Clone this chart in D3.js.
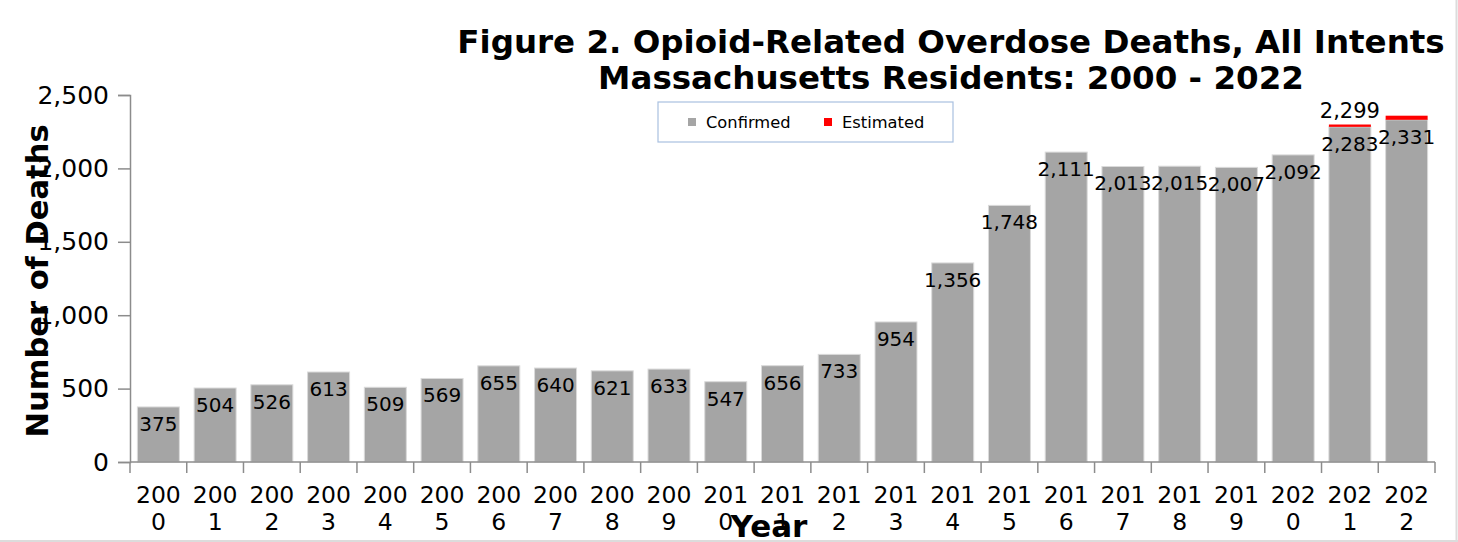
<!DOCTYPE html>
<html>
<head>
<meta charset="utf-8">
<script src="https://cdn.jsdelivr.net/npm/d3@7"></script>
<style>
  body { margin: 0; background: #fff; }
  text { font-family: "DejaVu Sans", sans-serif; }
</style>
</head>
<body>
<div class="chart"></div>
<script>
var svgWidth = 1458;
var svgHeight = 542;

// data
var years = ["2000","2001","2002","2003","2004","2005","2006","2007","2008","2009","2010",
  "2011","2012","2013","2014","2015","2016","2017","2018","2019","2020","2021","2022"];
var confirmed = [375,504,526,613,509,569,655,640,621,633,547,656,733,954,1356,1748,2111,2013,2015,2007,2092,2283,2331];
var estimated = [0,0,0,0,0,0,0,0,0,0,0,0,0,0,0,0,0,0,0,0,0,16,28];
var estimatedLabels = ["","","","","","","","","","","","","","","","","","","","","","2,299",""];
var yTicks = [0,500,1000,1500,2000,2500];

var margin = {top: 95, right: 23, bottom: 80, left: 130};
var width = svgWidth - margin.left - margin.right;
var height = svgHeight - margin.top - margin.bottom;

var svg = d3.select(".chart")
  .append("svg")
  .attr("width", svgWidth)
  .attr("height", svgHeight);

// light frame on right and bottom
svg.append("line").attr("x1", svgWidth - 1.5).attr("x2", svgWidth - 1.5)
  .attr("y1", 0).attr("y2", svgHeight).attr("stroke", "#dcdcdc").attr("stroke-width", 2);
svg.append("line").attr("x1", 0).attr("x2", svgWidth)
  .attr("y1", svgHeight - 1).attr("y2", svgHeight - 1).attr("stroke", "#dcdcdc").attr("stroke-width", 2);

var chartGroup = svg.append("g")
  .attr("transform", `translate(${margin.left}, ${margin.top})`);

var data = years.map(function(y, i) {
  return {year: y, confirmed: confirmed[i], estimated: estimated[i], estLabel: estimatedLabels[i]};
});

var xBandScale = d3.scaleBand()
  .domain(years)
  .range([0, width])
  .paddingInner(0.26)
  .paddingOuter(0.13);

var yLinearScale = d3.scaleLinear()
  .domain([0, 2500])
  .range([height, 0]);

// y axis
var leftAxis = d3.axisLeft(yLinearScale)
  .tickValues(yTicks)
  .tickSize(12)
  .tickPadding(9)
  .tickFormat(d3.format(","));

var yAxis = chartGroup.append("g").call(leftAxis);
yAxis.select(".domain").attr("stroke", "#8c8c8c").attr("stroke-width", 1.5);
yAxis.selectAll(".tick line").attr("stroke", "#8c8c8c").attr("stroke-width", 1.5);
yAxis.selectAll(".tick text")
  .attr("font-size", "25px")
  .attr("fill", "#000")
  .attr("font-family", "DejaVu Sans");

// bars
chartGroup.selectAll(".confirmed")
  .data(data)
  .enter()
  .append("rect")
  .attr("class", "confirmed")
  .attr("x", d => xBandScale(d.year))
  .attr("width", xBandScale.bandwidth())
  .attr("y", d => yLinearScale(d.confirmed))
  .attr("height", d => height - yLinearScale(d.confirmed))
  .attr("fill", "#a5a5a5")
  .attr("stroke", "#dadada")
  .attr("stroke-width", 1);

chartGroup.selectAll(".estimated")
  .data(data.filter(d => d.estimated > 0))
  .enter()
  .append("rect")
  .attr("class", "estimated")
  .attr("x", d => xBandScale(d.year))
  .attr("width", xBandScale.bandwidth())
  .attr("y", d => yLinearScale(d.confirmed + d.estimated))
  .attr("height", d => yLinearScale(d.confirmed) - yLinearScale(d.confirmed + d.estimated))
  .attr("fill", "#ff0000");

// x axis with ticks at category boundaries
var xAxis = chartGroup.append("g")
  .attr("transform", `translate(0, ${height})`);
xAxis.append("line")
  .attr("x1", 0).attr("x2", width)
  .attr("stroke", "#8c8c8c").attr("stroke-width", 1.5);
xAxis.selectAll(".bound")
  .data(d3.range(years.length + 1))
  .enter()
  .append("line")
  .attr("x1", i => i * width / years.length)
  .attr("x2", i => i * width / years.length)
  .attr("y1", 0).attr("y2", 11)
  .attr("stroke", "#8c8c8c").attr("stroke-width", 1.5);

var xLabels = xAxis.selectAll(".xlab")
  .data(years)
  .enter()
  .append("text")
  .attr("text-anchor", "middle")
  .attr("font-size", "23.5px")
  .attr("fill", "#000")
  .attr("transform", d => `translate(${xBandScale(d) + xBandScale.bandwidth() / 2}, 0)`);
xLabels.append("tspan").attr("x", 0).attr("y", 41).text(d => d.slice(0, 3));
xLabels.append("tspan").attr("x", 0).attr("y", 68).text(d => d.slice(3));

// value labels
chartGroup.selectAll(".valText")
  .data(data)
  .enter()
  .append("text")
  .attr("class", "valText")
  .attr("text-anchor", "middle")
  .attr("font-size", "20px")
  .attr("fill", "#000")
  .attr("x", d => xBandScale(d.year) + xBandScale.bandwidth() / 2)
  .attr("y", d => yLinearScale(d.confirmed) + 24)
  .text(d => d3.format(",")(d.confirmed));

chartGroup.selectAll(".estText")
  .data(data.filter(d => d.estLabel !== ""))
  .enter()
  .append("text")
  .attr("class", "estText")
  .attr("text-anchor", "middle")
  .attr("font-size", "21px")
  .attr("fill", "#000")
  .attr("x", d => xBandScale(d.year) + xBandScale.bandwidth() / 2)
  .attr("y", d => yLinearScale(d.confirmed + d.estimated) - 7)
  .text(d => d.estLabel);

// axis titles
svg.append("text")
  .attr("transform", "rotate(-90)")
  .attr("x", -281)
  .attr("y", 48)
  .attr("text-anchor", "middle")
  .attr("font-size", "30.5px")
  .attr("font-weight", "bold")
  .attr("fill", "#000")
  .text("Number of Deaths");

svg.append("text")
  .attr("x", 769)
  .attr("y", 537)
  .attr("text-anchor", "middle")
  .attr("font-size", "31px")
  .attr("font-weight", "bold")
  .attr("fill", "#000")
  .text("Year");

// title
var title = svg.append("text")
  .attr("text-anchor", "middle")
  .attr("font-size", "32.5px")
  .attr("font-weight", "bold")
  .attr("fill", "#000");
title.append("tspan").attr("x", 951).attr("y", 53).text("Figure 2. Opioid-Related Overdose Deaths, All Intents");
title.append("tspan").attr("x", 951).attr("y", 89).text("Massachusetts Residents: 2000 - 2022");

// legend
var legend = svg.append("g").attr("transform", "translate(658, 102)");
legend.append("rect")
  .attr("width", 295).attr("height", 40)
  .attr("fill", "#fff")
  .attr("stroke", "#a9c0e0").attr("stroke-width", 1.2);
var legendItems = [{name: "Confirmed", color: "#a5a5a5", x: 30}, {name: "Estimated", color: "#ff0000", x: 166}];
var li = legend.selectAll(".li")
  .data(legendItems)
  .enter()
  .append("g")
  .attr("transform", d => `translate(${d.x}, 20)`);
li.append("rect").attr("x", 0).attr("y", -4).attr("width", 8).attr("height", 8).attr("fill", d => d.color);
li.append("text").attr("x", 18).attr("y", 6).attr("font-size", "16.3px").attr("fill", "#000").text(d => d.name);
</script>
</body>
</html>
